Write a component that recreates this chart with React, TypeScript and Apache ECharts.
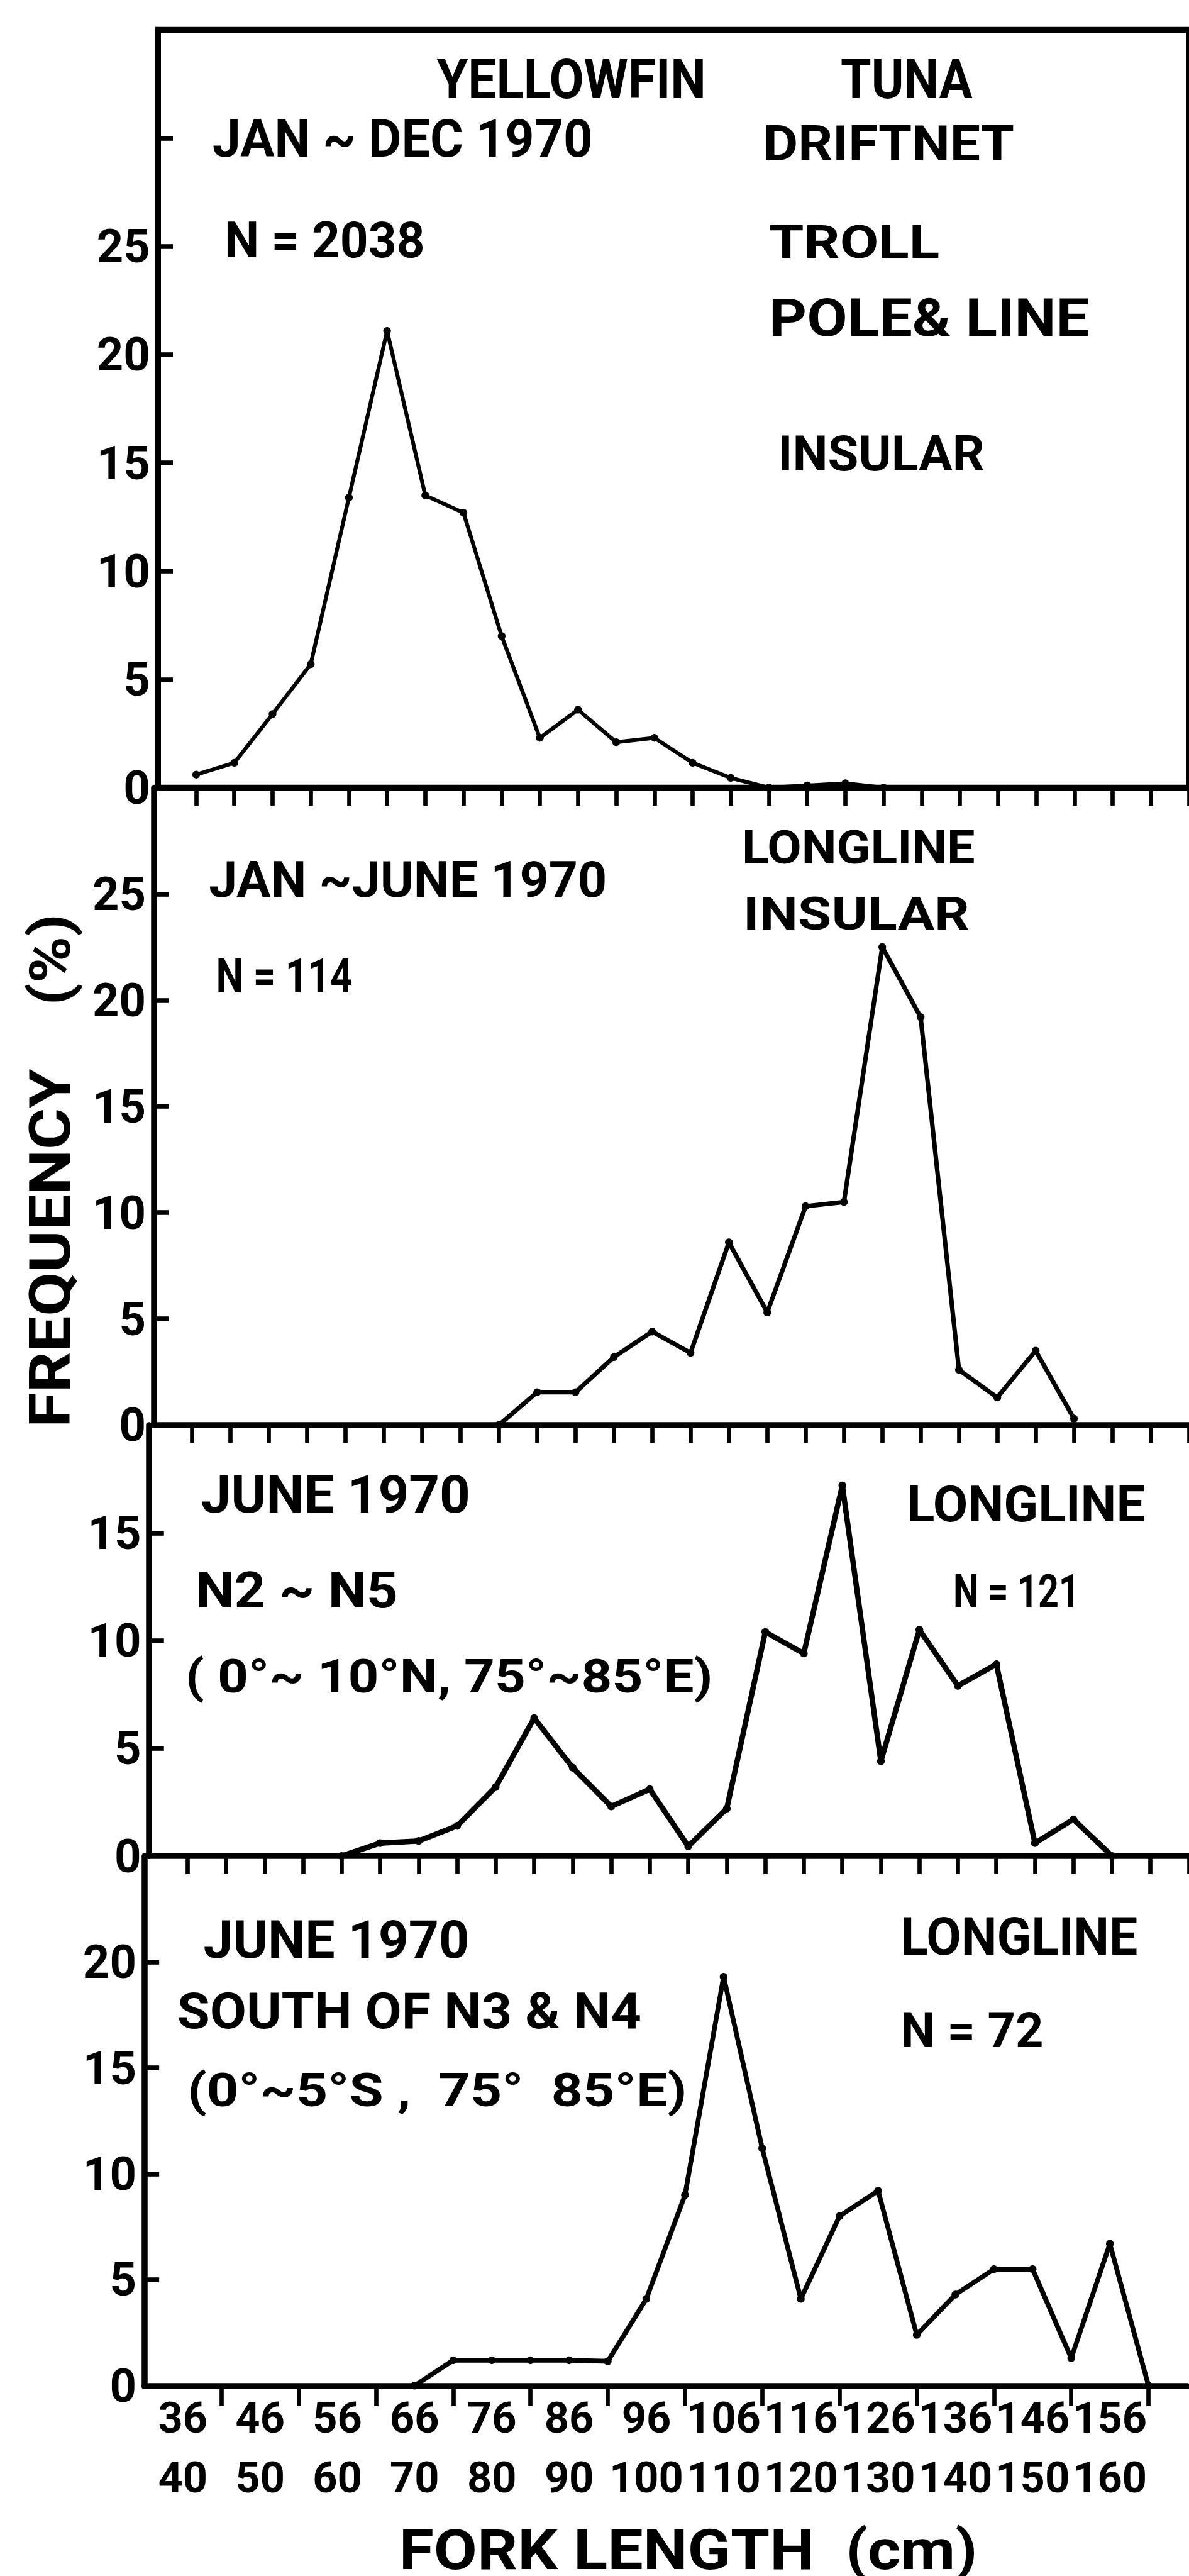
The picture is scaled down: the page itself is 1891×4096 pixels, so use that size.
import React, { useEffect, useRef } from "react";
import * as echarts from "echarts";

// ---------- data ----------
// length classes (cm); index 0 is the origin at the y axis
const LENGTH_CLASSES = [
  "", "36-40", "41-45", "46-50", "51-55", "56-60", "61-65", "66-70", "71-75",
  "76-80", "81-85", "86-90", "91-95", "96-100", "101-105", "106-110", "111-115",
  "116-120", "121-125", "126-130", "131-135", "136-140", "141-145", "146-150",
  "151-155", "156-160", "161-165", "166-170",
];

// Jan–Dec 1970, driftnet / troll / pole & line, insular, N = 2038
const FREQ_ALL_YEAR = [
  null, 0.6, 1.15, 3.4, 5.7, 13.4, 21.1, 13.5, 12.7, 7.0, 2.3, 3.6, 2.1, 2.3,
  1.15, 0.45, 0, 0.1, 0.2, 0, null, null, null, null, null, null, null, null,
];
// Jan–June 1970, longline insular, N = 114
const FREQ_LONGLINE_INSULAR = [
  null, null, null, null, null, null, null, null, null, 0, 1.55, 1.55, 3.2, 4.4,
  3.4, 8.6, 5.3, 10.3, 10.5, 22.5, 19.2, 2.6, 1.3, 3.5, 0.3, null, null, null,
];
// June 1970, N2~N5, longline, N = 121
const FREQ_JUNE_NORTH = [
  null, null, null, null, null, 0, 0.6, 0.7, 1.4, 3.2, 6.4, 4.1, 2.3, 3.1,
  0.45, 2.2, 10.4, 9.4, 17.2, 4.4, 10.5, 7.9, 8.9, 0.6, 1.7, 0, null, null,
];
// June 1970, south of N3 & N4, longline, N = 72
const FREQ_JUNE_SOUTH = [
  null, null, null, null, null, null, null, 0, 1.2, 1.2, 1.2, 1.2, 1.15, 4.1,
  9.0, 19.3, 11.2, 4.1, 8.0, 9.2, 2.4, 4.3, 5.5, 5.5, 1.3, 6.7, 0, null,
];
const PANEL_DATA = [FREQ_ALL_YEAR, FREQ_LONGLINE_INSULAR, FREQ_JUNE_NORTH, FREQ_JUNE_SOUTH];

const Y_MAX = [35, 30, 20, 25];
const Y_LABEL_MAX = [25, 25, 15, 20];
const Y_INTERVAL = 5;

// ---------- layout (reference pixels, scaled by S) ----------
const W = 1891;
const H = 4096;
const S = 1891 / 1987;
const U = 65.05; // px per length class
const PANEL_LEFT = [264, 257, 249, 241];
const PANEL_TOP = [50, 1316, 2381, 3101];
const PANEL_BOTTOM = [1316, 2381, 3101, 3986];
const SERIES_WIDTH = [6.5, 7.5, 9, 8];
const FAMILY = "Roboto, 'DejaVu Sans', sans-serif";
const CAP = 0.711;
const Y_LABEL_FS = 78;
const X_LABEL_FS = 72;

type Ann = { text: string; x: number; y: number; w: number; h: number; rot?: boolean };
const ANNOTATIONS: Ann[] = [
  { text: "YELLOWFIN", x: 730, y: 132, w: 450, h: 65 },
  { text: "TUNA", x: 1405, y: 132, w: 220, h: 65 },
  { text: "JAN ~ DEC 1970", x: 355, y: 232, w: 635, h: 62 },
  { text: "DRIFTNET", x: 1275, y: 240, w: 420, h: 58 },
  { text: "N = 2038", x: 375, y: 401, w: 335, h: 60 },
  { text: "TROLL", x: 1285, y: 405, w: 285, h: 54 },
  { text: "POLE& LINE", x: 1285, y: 532, w: 535, h: 62 },
  { text: "INSULAR", x: 1300, y: 758, w: 345, h: 58 },
  { text: "JAN ~JUNE 1970", x: 349, y: 1470, w: 665, h: 60 },
  { text: "N = 114", x: 361, y: 1631, w: 228, h: 57 },
  { text: "LONGLINE", x: 1240, y: 1416, w: 389, h: 56 },
  { text: "INSULAR", x: 1242, y: 1527, w: 378, h: 54 },
  { text: "JUNE 1970", x: 336, y: 2498, w: 450, h: 62 },
  { text: "LONGLINE", x: 1516, y: 2513, w: 397, h: 60 },
  { text: "N2 ~ N5", x: 327, y: 2657, w: 338, h: 59 },
  { text: "N = 121", x: 1593, y: 2659, w: 211, h: 56 },
  { text: "( 0°~ 10°N, 75°~85°E)", x: 310, y: 2801, w: 881, h: 56 },
  { text: "JUNE 1970", x: 340, y: 3241, w: 444, h: 62 },
  { text: "LONGLINE", x: 1505, y: 3236, w: 396, h: 62 },
  { text: "SOUTH OF N3 & N4", x: 296, y: 3360, w: 776, h: 60 },
  { text: "N = 72", x: 1505, y: 3392, w: 239, h: 58 },
  { text: "(0°~5°S ,  75°  85°E)", x: 313, y: 3492, w: 835, h: 56 },
  { text: "FORK LENGTH  (cm)", x: 667, y: 4260, w: 966, h: 66 },
  { text: "FREQUENCY    (%)", x: 84, y: 1956, w: 858, h: 68, rot: true },
];

export default function App() {
  const ref = useRef<HTMLDivElement>(null);

  useEffect(() => {
    if (!ref.current) return;
    const chart = echarts.init(ref.current, null, { renderer: "svg", width: W, height: H });
    const ctx = document.createElement("canvas").getContext("2d")!;
    const measure = (t: string, fs: number) => {
      ctx.font = `bold ${fs}px ${FAMILY}`;
      return ctx.measureText(t).width;
    };

    const grid: any[] = [];
    const xAxis: any[] = [];
    const yAxis: any[] = [];
    const series: any[] = [];
    for (let p = 0; p < 4; p++) {
      grid.push({
        left: PANEL_LEFT[p] * S,
        top: PANEL_TOP[p] * S,
        width: 27 * U * S,
        height: (PANEL_BOTTOM[p] - PANEL_TOP[p]) * S,
        show: p === 0,
        borderColor: "#000",
        borderWidth: 10 * S,
        backgroundColor: "transparent",
      });
      const last = p === 3;
      xAxis.push({
        type: "category",
        gridIndex: p,
        data: LENGTH_CLASSES,
        boundaryGap: false,
        axisLine: { show: true, onZero: false, lineStyle: { color: "#000", width: 10 * S } },
        axisTick: {
          show: true,
          inside: false,
          length: (last ? 34 : 30) * S,
          lineStyle: { color: "#000", width: 7 * S },
          interval: last ? (i: number) => i > 0 && i % 2 === 0 : (i: number) => i > 0,
        },
        axisLabel: last
          ? {
              show: true,
              interval: (i: number) => (i % 2 === 1 && i <= 25) || i === 27,
              showMinLabel: true,
              showMaxLabel: true,
              hideOverlap: false,
              formatter: (v: string, i: number) => (i === 27 ? "" : v.replace("-", "\n")),
              fontSize: X_LABEL_FS * S,
              fontFamily: FAMILY,
              fontWeight: "bold",
              color: "#000",
              lineHeight: 100 * S,
              margin: 4 * S,
            }
          : { show: false },
        splitLine: { show: false },
      });
      yAxis.push({
        type: "value",
        gridIndex: p,
        min: 0,
        max: Y_MAX[p],
        interval: Y_INTERVAL,
        axisLine: { show: true, onZero: false, lineStyle: { color: "#000", width: 10 * S } },
        axisTick: { show: true, inside: true, length: 25 * S, lineStyle: { color: "#000", width: 8 * S } },
        axisLabel: {
          show: true,
          showMinLabel: true,
          formatter: (v: number) => (v <= Y_LABEL_MAX[p] ? String(v) : ""),
          fontSize: Y_LABEL_FS * S,
          fontFamily: FAMILY,
          fontWeight: "bold",
          color: "#000",
          margin: 13 * S,
        },
        splitLine: { show: false },
      });
      series.push({
        type: "line",
        xAxisIndex: p,
        yAxisIndex: p,
        data: PANEL_DATA[p],
        symbol: "circle",
        symbolSize: 13 * S,
        showAllSymbol: true,
        connectNulls: false,
        clip: false,
        silent: true,
        z: 3,
        itemStyle: { color: "#000" },
        lineStyle: { color: "#000", width: SERIES_WIDTH[p] * S },
      });
    }

    const graphic = ANNOTATIONS.map((a) => {
      const fs = a.h / CAP;
      const mw = measure(a.text, fs);
      const sx = a.w / mw;
      return {
        type: "text",
        x: a.x * S,
        y: a.y * S,
        rotation: a.rot ? Math.PI / 2 : 0,
        scaleX: sx,
        scaleY: 1,
        silent: true,
        z: 10,
        style: {
          text: a.text,
          fontSize: fs * S,
          fontFamily: FAMILY,
          fontWeight: "bold",
          fill: "#000",
          align: a.rot ? "center" : "left",
          verticalAlign: "middle",
        },
      };
    });

    chart.setOption({
      animation: false,
      backgroundColor: "#fff",
      grid,
      xAxis,
      yAxis,
      series,
      graphic,
    });

    return () => chart.dispose();
  }, []);

  return (
    <div
      ref={ref}
      style={{ position: "absolute", left: 0, top: 0, width: W, height: H, background: "#fff" }}
    />
  );
}
